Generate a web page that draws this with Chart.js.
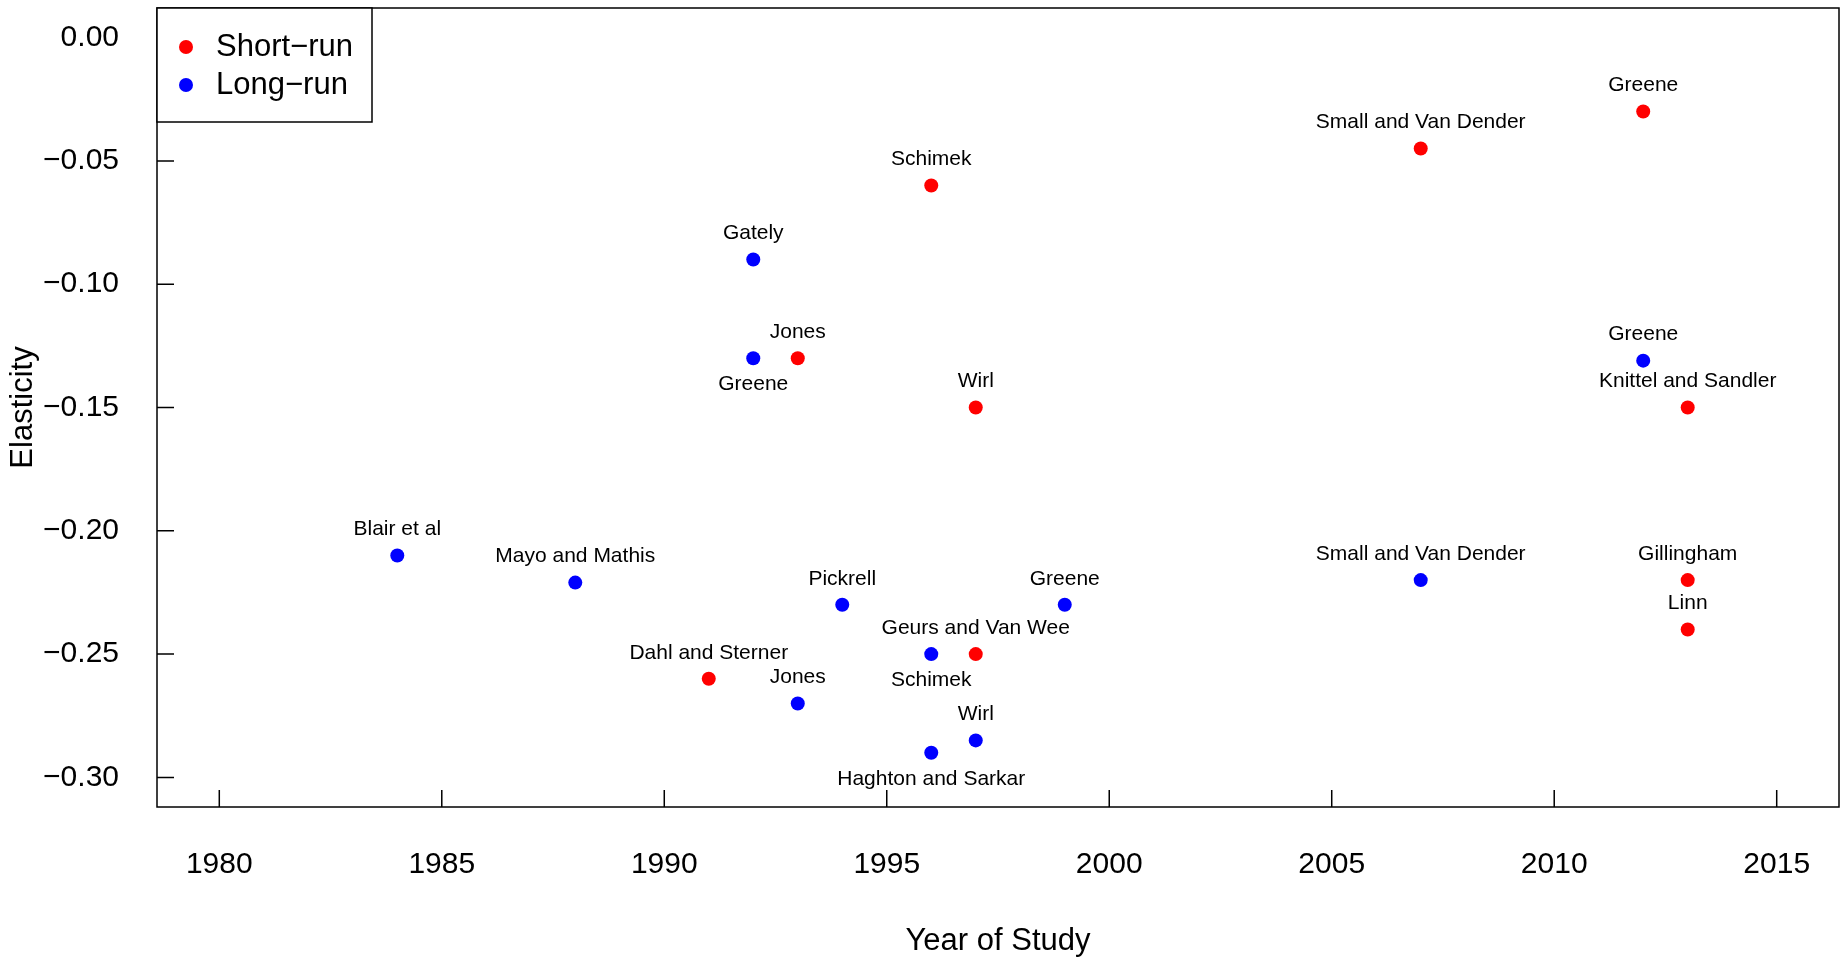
<!DOCTYPE html>
<html>
<head>
<meta charset="utf-8">
<script src="https://cdn.jsdelivr.net/npm/chart.js@4.4.0/dist/chart.umd.min.js"></script>
<style>
  html, body { margin: 0; padding: 0; background: #fff; }
  #wrap { width: 1847px; height: 960px; }
</style>
</head>
<body>
<div id="wrap"><canvas id="elasticity"></canvas></div>
<script>
(() => {
    const el = document.getElementById('elasticity');
    if (!el || !window.Chart) return;

    // === DATA ===
    const shortYears = [1991, 1993, 1996, 1997, 1997, 2007, 2012, 2013, 2013, 2013];
    const shortValues = [-0.26, -0.13, -0.06, -0.15, -0.25, -0.045, -0.03, -0.15, -0.22, -0.24];
    const shortNames = ['Dahl and Sterner', 'Jones', 'Schimek', 'Wirl', 'Geurs and Van Wee',
        'Small and Van Dender', 'Greene', 'Knittel and Sandler', 'Gillingham', 'Linn'];

    const longYears = [1984, 1988, 1992, 1992, 1993, 1994, 1996, 1996, 1997, 1999, 2007, 2012];
    const longValues = [-0.21, -0.221, -0.09, -0.13, -0.27, -0.23, -0.25, -0.29, -0.285, -0.23, -0.22, -0.131];
    const longNames = ['Blair et al', 'Mayo and Mathis', 'Gately', 'Greene', 'Jones', 'Pickrell',
        'Schimek', 'Haghton and Sarkar', 'Wirl', 'Greene', 'Small and Van Dender', 'Greene'];

    // labels drawn under the point instead of over it (index per series)
    const shortBelow = [];
    const longBelow = [3, 6, 7];

    const xTicks = [1980, 1985, 1990, 1995, 2000, 2005, 2010, 2015];
    const yTicks = [0, -0.05, -0.10, -0.15, -0.20, -0.25, -0.30];

    const FONT = '"Liberation Sans", Arial, Helvetica, sans-serif';
    const minus = (s) => s.replace('-', '\u2212');

    const toXY = (xs, ys) => xs.map((x, i) => ({ x, y: ys[i] }));

    // labels, box, inward ticks, legend
    const decor = {
        id: 'decor',
        afterDatasetsDraw(chart) {
            const ctx = chart.ctx;
            ctx.save();
            ctx.font = '21px ' + FONT;
            ctx.fillStyle = '#000';
            ctx.textAlign = 'center';
            ctx.textBaseline = 'middle';
            const sets = [[shortNames, shortBelow], [longNames, longBelow]];
            sets.forEach(([names, below], di) => {
                chart.getDatasetMeta(di).data.forEach((pt, i) => {
                    const dy = below.includes(i) ? 26 : -26;
                    ctx.fillText(names[i], pt.x, pt.y + dy);
                });
            });
            ctx.restore();
        },
        afterDraw(chart) {
            const ctx = chart.ctx;
            const a = chart.chartArea;
            const xs = chart.scales.x, ys = chart.scales.y;
            const tick = 17;
            ctx.save();
            ctx.strokeStyle = '#000';
            ctx.lineWidth = 1.5;
            ctx.beginPath();
            xTicks.forEach(v => {
                const px = xs.getPixelForValue(v);
                ctx.moveTo(px, a.bottom);
                ctx.lineTo(px, a.bottom - tick);
            });
            yTicks.forEach(v => {
                const py = ys.getPixelForValue(v);
                ctx.moveTo(a.left, py);
                ctx.lineTo(a.left + tick, py);
            });
            ctx.stroke();
            ctx.strokeRect(a.left, a.top, a.right - a.left, a.bottom - a.top);

            // legend
            const lw = 215, lh = 114;
            ctx.fillStyle = '#fff';
            ctx.fillRect(a.left, a.top, lw, lh);
            ctx.strokeRect(a.left, a.top, lw, lh);
            ctx.font = '31px ' + FONT;
            ctx.textAlign = 'left';
            ctx.textBaseline = 'middle';
            chart.data.datasets.forEach((ds, i) => {
                const cy = a.top + 39 + i * 38;
                ctx.fillStyle = ds.backgroundColor;
                ctx.beginPath();
                ctx.arc(a.left + 29, cy, 7, 0, Math.PI * 2);
                ctx.fill();
                ctx.fillStyle = '#000';
                ctx.fillText(ds.label, a.left + 59, cy);
            });
            ctx.restore();
        }
    };

    new Chart(el.getContext('2d'), {
        type: 'scatter',
        data: {
            datasets: [{
                label: 'Short\u2212run',
                data: toXY(shortYears, shortValues),
                backgroundColor: '#ff0000',
                borderWidth: 0,
                pointRadius: 7,
                pointHoverRadius: 7
            }, {
                label: 'Long\u2212run',
                data: toXY(longYears, longValues),
                backgroundColor: '#0000ff',
                borderWidth: 0,
                pointRadius: 7,
                pointHoverRadius: 7
            }]
        },
        options: {
            responsive: true,
            maintainAspectRatio: false,
            animation: false,
            layout: { padding: { top: 8, right: 8, left: 0, bottom: 0 } },
            plugins: {
                legend: { display: false },
                tooltip: { enabled: false }
            },
            scales: {
                x: {
                    type: 'linear',
                    min: 1978.6,
                    max: 2016.4,
                    afterBuildTicks: (s) => { s.ticks = xTicks.map(v => ({ value: v })); },
                    afterFit: (s) => { s.height = 153; s.paddingLeft = 0; s.paddingRight = 0; },
                    grid: { display: false, drawTicks: false },
                    border: { display: false },
                    ticks: {
                        autoSkip: false,
                        maxRotation: 0,
                        padding: 40,
                        color: '#000',
                        font: { family: FONT, size: 30 },
                        callback: (v) => String(v)
                    },
                    title: {
                        display: true,
                        text: 'Year of Study',
                        color: '#000',
                        font: { family: FONT, size: 31 },
                        padding: { top: 0, bottom: 0 }
                    }
                },
                y: {
                    type: 'linear',
                    min: -0.312,
                    max: 0.012,
                    afterBuildTicks: (s) => { s.ticks = yTicks.map(v => ({ value: v })); },
                    afterFit: (s) => { s.width = 157; s.paddingTop = 0; s.paddingBottom = 0; },
                    grid: { display: false, drawTicks: false },
                    border: { display: false },
                    ticks: {
                        autoSkip: false,
                        padding: 38,
                        color: '#000',
                        font: { family: FONT, size: 30 },
                        callback: (v) => minus(Number(v).toFixed(2))
                    },
                    title: {
                        display: true,
                        text: 'Elasticity',
                        color: '#000',
                        font: { family: FONT, size: 31 },
                        padding: { top: 5, bottom: 0 }
                    }
                }
            }
        },
        plugins: [decor]
    });
})();
</script>
</body>
</html>
